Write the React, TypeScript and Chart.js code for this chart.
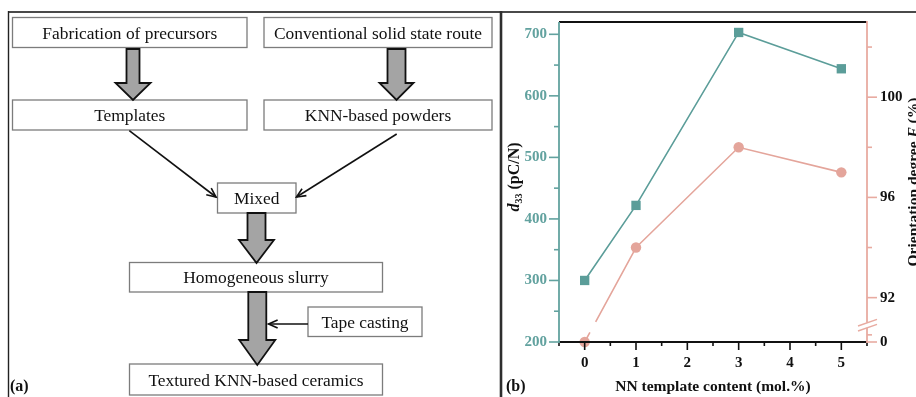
import React, { useEffect, useRef } from "react";
import { Chart, registerables } from "chart.js";

Chart.register(...registerables);

// ---------------- data ----------------
const templateContent = [0, 1, 3, 5];
const d33Values = [300, 422, 703, 644];
const orientationValues = [0, 94.0, 98.0, 97.0];

const xTicks = [0, 1, 2, 3, 4, 5];
const xMinorTicks = [-0.5, 0.5, 1.5, 2.5, 3.5, 4.5, 5.5];
const d33Ticks = [200, 300, 400, 500, 600, 700];
const d33MinorTicks = [250, 350, 450, 550, 650];
const orientationLabelTicks = [92, 96, 100];
const orientationMinorTicks = [94, 98, 102];

const X_MIN = -0.5;
const X_MAX = 5.5;
const D33_MIN = 200;
const D33_MAX = 720;
// broken right axis: values under the break sit on the axis bottom, labelled "0"
const F_MIN = 90.23;
const F_MAX = 103.0;
const F_BREAK = 90.9;
const F_BOTTOM_LABEL = "0";

// flowchart content
const flowBoxes = [
  { x: 12.5, y: 17.5, w: 234.5, h: 30, text: "Fabrication of precursors" },
  { x: 264, y: 17.5, w: 228, h: 30, text: "Conventional solid state route" },
  { x: 12.5, y: 100, w: 234.5, h: 30, text: "Templates" },
  { x: 264, y: 100, w: 228, h: 30, text: "KNN-based powders" },
  { x: 217.5, y: 183, w: 78.5, h: 30, text: "Mixed" },
  { x: 129.5, y: 262.5, w: 253, h: 29.5, text: "Homogeneous slurry" },
  { x: 308, y: 307, w: 114, h: 29.5, text: "Tape casting" },
  { x: 129.5, y: 364, w: 253, h: 31, text: "Textured KNN-based ceramics" },
];
const bigArrows = [
  { cx: 133, top: 49, headY: 83, tip: 100, sh: 6.5, hh: 17.5 },
  { cx: 396.5, top: 49, headY: 83, tip: 100, sh: 9, hh: 17 },
  { cx: 256.5, top: 213, headY: 240, tip: 263, sh: 9, hh: 17.5 },
  { cx: 257.3, top: 292, headY: 340, tip: 365, sh: 9, hh: 18 },
];
const thinArrows = [
  { x1: 129.3, y1: 130.7, x2: 216, y2: 197 },
  { x1: 396.7, y1: 134, x2: 296.5, y2: 197 },
  { x1: 308, y1: 324, x2: 268.5, y2: 324 },
];

// ---------------- style ----------------
const SERIF = "'Liberation Serif', 'Times New Roman', serif";
const TEAL = "#5b9d99";
const TEAL_AXIS = "#62a29f";
const PINK = "#e4a59b";
const PINK_AXIS = "#e8aba1";

function drawRich(
  ctx: CanvasRenderingContext2D,
  parts: { text: string; font: string; dy: number }[],
  cx: number,
  cy: number,
  rot: number
) {
  ctx.save();
  ctx.translate(cx, cy);
  ctx.rotate(rot);
  ctx.textAlign = "left";
  ctx.textBaseline = "alphabetic";
  const widths = parts.map((p) => {
    ctx.font = p.font;
    return ctx.measureText(p.text).width;
  });
  const total = widths.reduce((a, b) => a + b, 0);
  let x = -total / 2;
  parts.forEach((p, i) => {
    ctx.font = p.font;
    ctx.fillText(p.text, x, p.dy);
    x += widths[i];
  });
  ctx.restore();
}

const axesPlugin = {
  id: "customAxes",
  afterDatasetsDraw(chart: any) {
    const { ctx, chartArea: a, scales } = chart;
    const xs = scales.x;
    const ys = scales.y;
    const ys1 = scales.y1;
    const seg = (x1: number, y1: number, x2: number, y2: number) => {
      ctx.beginPath();
      ctx.moveTo(x1, y1);
      ctx.lineTo(x2, y2);
      ctx.stroke();
    };
    ctx.save();
    ctx.lineCap = "butt";

    // top frame + bottom axis
    ctx.strokeStyle = "#111";
    ctx.lineWidth = 1.8;
    seg(a.left, a.top, a.right, a.top);
    seg(a.left, a.bottom, a.right, a.bottom);
    ctx.lineWidth = 1.6;
    xTicks.forEach((v) => {
      const px = xs.getPixelForValue(v);
      seg(px, a.bottom, px, a.bottom + 8);
    });
    xMinorTicks.forEach((v) => {
      const px = xs.getPixelForValue(v);
      seg(px, a.bottom, px, a.bottom + 4);
    });

    // left axis
    ctx.strokeStyle = TEAL_AXIS;
    ctx.lineWidth = 1.8;
    seg(a.left, a.top, a.left, a.bottom + 1);
    ctx.lineWidth = 1.6;
    d33Ticks.forEach((v) => {
      const py = ys.getPixelForValue(v);
      seg(a.left - 10, py, a.left, py);
    });
    d33MinorTicks.forEach((v) => {
      const py = ys.getPixelForValue(v);
      seg(a.left - 5, py, a.left, py);
    });

    // right axis with break
    ctx.strokeStyle = PINK_AXIS;
    ctx.lineWidth = 1.8;
    const bp = ys1.getPixelForValue(F_BREAK);
    seg(a.right, a.top - 1, a.right, bp - 2.5);
    seg(a.right, bp + 2.5, a.right, a.bottom + 1);
    ctx.lineWidth = 1.5;
    seg(a.right - 9, bp - 2.5 + 3.3, a.right + 10, bp - 2.5 - 3.3);
    seg(a.right - 9, bp + 2.5 + 3.3, a.right + 10, bp + 2.5 - 3.3);
    ctx.lineWidth = 1.6;
    [F_MIN, ...orientationLabelTicks].forEach((v) => {
      const py = ys1.getPixelForValue(v);
      seg(a.right, py, a.right + 10, py);
    });
    orientationMinorTicks.forEach((v) => {
      const py = ys1.getPixelForValue(v);
      seg(a.right, py, a.right + 5, py);
    });
    const mid = (bp + 2.5 + a.bottom) / 2;
    seg(a.right, mid, a.right + 5, mid);

    // axis titles
    ctx.fillStyle = "#111";
    drawRich(
      ctx,
      [
        { text: "d", font: `italic bold 16px ${SERIF}`, dy: 5.5 },
        { text: "33", font: `bold 10px ${SERIF}`, dy: 9 },
        { text: " (pC/N)", font: `bold 16px ${SERIF}`, dy: 5.5 },
      ],
      513,
      177,
      -Math.PI / 2
    );
    drawRich(
      ctx,
      [
        { text: "Orientation degree ", font: `bold 15.5px ${SERIF}`, dy: 5.5 },
        { text: "F", font: `italic bold 15.5px ${SERIF}`, dy: 5.5 },
        { text: " (%)", font: `bold 15.5px ${SERIF}`, dy: 5.5 },
      ],
      912.5,
      (a.top + a.bottom) / 2,
      -Math.PI / 2
    );
    ctx.restore();
  },
};

function headPoints(x1: number, y1: number, x2: number, y2: number) {
  const ang = Math.atan2(y2 - y1, x2 - x1);
  const L = 10;
  const s = 0.42;
  const p1 = [x2 - L * Math.cos(ang - s), y2 - L * Math.sin(ang - s)];
  const p2 = [x2 - L * Math.cos(ang + s), y2 - L * Math.sin(ang + s)];
  return `${p1[0]},${p1[1]} ${x2},${y2} ${p2[0]},${p2[1]}`;
}

export default function App() {
  const ref = useRef<HTMLCanvasElement>(null);

  useEffect(() => {
    if (!ref.current) return;
    const chart = new Chart(ref.current, {
      type: "line",
      data: {
        datasets: [
          {
            label: "d33",
            data: templateContent.map((x, i) => ({ x, y: d33Values[i] })),
            yAxisID: "y",
            borderColor: TEAL,
            backgroundColor: TEAL,
            borderWidth: 1.6,
            pointStyle: "rect",
            pointRadius: 6.6,
            pointBorderWidth: 0,
            clip: false,
          },
          {
            label: "F",
            data: templateContent.map((x, i) => ({
              x,
              y: orientationValues[i] < F_BREAK ? F_MIN : orientationValues[i],
            })),
            yAxisID: "y1",
            borderColor: PINK,
            backgroundColor: PINK,
            borderWidth: 1.6,
            pointStyle: "circle",
            pointRadius: 5.2,
            pointBorderWidth: 0,
            clip: false,
            segment: {
              borderDash: (c: any) => (c.p0DataIndex === 0 ? [11, 12, 1000] : undefined),
            },
          } as any,
        ],
      },
      options: {
        responsive: false,
        animation: false,
        devicePixelRatio: 1,
        layout: { padding: { left: 500, top: 17, right: 0, bottom: 0 } },
        plugins: { legend: { display: false }, tooltip: { enabled: false } },
        scales: {
          x: {
            type: "linear",
            position: "bottom",
            min: X_MIN,
            max: X_MAX,
            afterBuildTicks: (s: any) => {
              s.ticks = xTicks.map((v) => ({ value: v }));
            },
            afterFit: (s: any) => {
              s.height = 55;
            },
            grid: { display: false, drawTicks: false },
            border: { display: false },
            ticks: {
              padding: 12,
              autoSkip: false,
              maxRotation: 0,
              color: "#111",
              font: { family: SERIF, size: 15, weight: "bold" },
              callback: (v: any) => String(v),
            },
            title: {
              display: true,
              text: "NN template content (mol.%)",
              color: "#111",
              font: { family: SERIF, size: 15.5, weight: "bold" },
              padding: { top: 0, bottom: 1 },
            },
          },
          y: {
            type: "linear",
            position: "left",
            min: D33_MIN,
            max: D33_MAX,
            afterBuildTicks: (s: any) => {
              s.ticks = d33Ticks.map((v) => ({ value: v }));
            },
            afterFit: (s: any) => {
              s.width = 59;
            },
            grid: { display: false, drawTicks: false },
            border: { display: false },
            ticks: {
              padding: 12,
              autoSkip: false,
              color: TEAL_AXIS,
              font: { family: SERIF, size: 15, weight: "bold" },
              callback: (v: any) => String(v),
            },
          },
          y1: {
            type: "linear",
            position: "right",
            min: F_MIN,
            max: F_MAX,
            afterBuildTicks: (s: any) => {
              s.ticks = [F_MIN, ...orientationLabelTicks].map((v) => ({ value: v }));
            },
            afterFit: (s: any) => {
              s.width = 49;
            },
            grid: { display: false, drawTicks: false },
            border: { display: false },
            ticks: {
              padding: 13,
              autoSkip: false,
              color: "#111",
              font: { family: SERIF, size: 15, weight: "bold" },
              callback: (v: any) => (v === F_MIN ? F_BOTTOM_LABEL : String(v)),
            },
          },
        },
      },
      plugins: [axesPlugin],
    } as any);
    return () => chart.destroy();
  }, []);

  return (
    <div
      style={{
        position: "absolute",
        left: 0,
        top: 0,
        width: 916,
        height: 397,
        background: "#fff",
        overflow: "hidden",
      }}
    >
      <canvas
        ref={ref}
        width={916}
        height={397}
        style={{ position: "absolute", left: 0, top: 0, width: 916, height: 397 }}
      />
      <svg
        width={916}
        height={397}
        style={{ position: "absolute", left: 0, top: 0, pointerEvents: "none" }}
      >
        {/* frame */}
        <line x1={8} y1={12} x2={916} y2={12} stroke="#4a4a4a" strokeWidth={2} />
        <line x1={8.5} y1={11} x2={8.5} y2={397} stroke="#222" strokeWidth={1.4} />
        <line x1={501} y1={11} x2={501} y2={397} stroke="#2e2e2e" strokeWidth={2.6} />

        {flowBoxes.map((b, i) => (
          <g key={i}>
            <rect x={b.x} y={b.y} width={b.w} height={b.h} fill="#fff" stroke="#7c7c7c" strokeWidth={1.3} />
            <text
              x={b.x + b.w / 2}
              y={b.y + b.h / 2 + 6}
              textAnchor="middle"
              fontFamily={SERIF}
              fontSize={17.4}
              fill="#111"
            >
              {b.text}
            </text>
          </g>
        ))}

        {bigArrows.map((r, i) => (
          <polygon
            key={i}
            points={`${r.cx - r.sh},${r.top} ${r.cx + r.sh},${r.top} ${r.cx + r.sh},${r.headY} ${r.cx + r.hh},${r.headY} ${r.cx},${r.tip} ${r.cx - r.hh},${r.headY} ${r.cx - r.sh},${r.headY}`}
            fill="#a4a4a4"
            stroke="#111"
            strokeWidth={1.8}
            strokeLinejoin="miter"
          />
        ))}

        {thinArrows.map((t, i) => (
          <g key={i} stroke="#111" strokeWidth={1.6} fill="none">
            <line x1={t.x1} y1={t.y1} x2={t.x2} y2={t.y2} />
            <polyline points={headPoints(t.x1, t.y1, t.x2, t.y2)} />
          </g>
        ))}

        <text x={10} y={391} fontFamily={SERIF} fontSize={16} fontWeight="bold" fill="#111">
          (a)
        </text>
        <text x={506} y={391} fontFamily={SERIF} fontSize={16} fontWeight="bold" fill="#111">
          (b)
        </text>
      </svg>
    </div>
  );
}
